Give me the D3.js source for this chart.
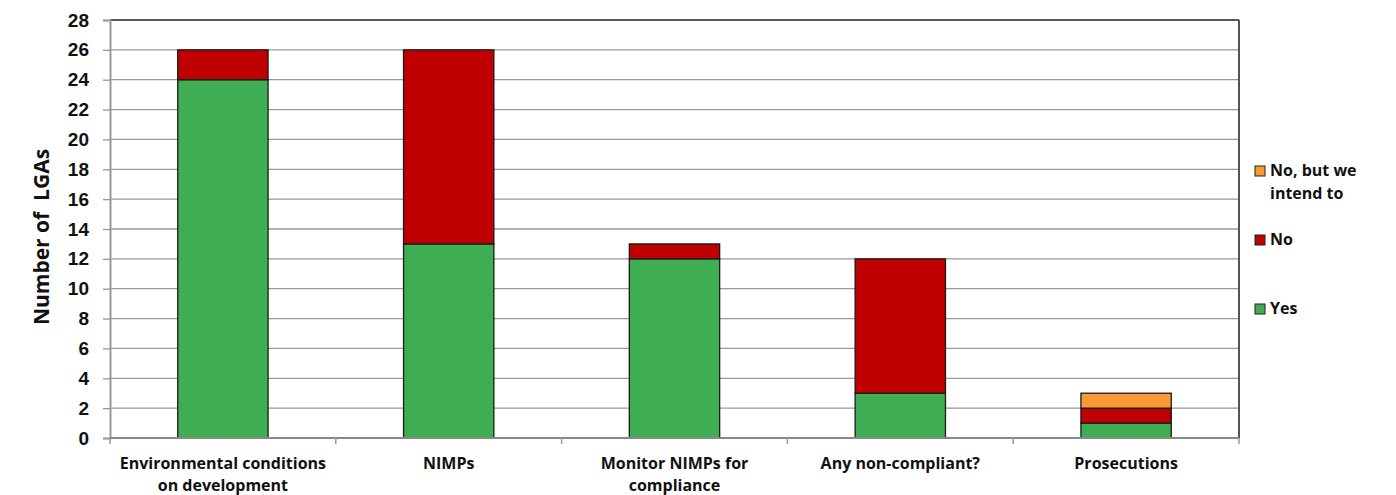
<!DOCTYPE html>
<html>
<head>
<meta charset="utf-8">
<script src="https://cdn.jsdelivr.net/npm/d3@7"></script>
<style>
  html, body { margin: 0; padding: 0; background: #fff; }
  svg { display: block; font-family: "Open Sans", Lato, "Liberation Sans", sans-serif; }
</style>
</head>
<body>
<svg id="chart" width="1396" height="495"></svg>
<script>
// Survey responses per activity (number of LGAs)
const categories = [
  ["Environmental conditions", "on development"],
  ["NIMPs"],
  ["Monitor NIMPs for", "compliance"],
  ["Any non-compliant?"],
  ["Prosecutions"]
];
const seriesNames = ["Yes", "No", "No, but we intend to"];
const yesValues = [24, 13, 12, 3, 1];
const noValues = [2, 13, 1, 9, 1];
const intendValues = [0, 0, 0, 0, 1];
const yTicks = [0, 2, 4, 6, 8, 10, 12, 14, 16, 18, 20, 22, 24, 26, 28];
const colors = ["#3fae52", "#c00000", "#f89a38"];

const svg = d3.select("#chart");
const margin = { left: 110, right: 157, top: 20, bottom: 57 };
const width = 1396 - margin.left - margin.right;
const height = 495 - margin.top - margin.bottom;

const g = svg.append("g").attr("transform", `translate(${margin.left},${margin.top})`);

const rows = categories.map((c, i) => ({
  key: i,
  "Yes": yesValues[i],
  "No": noValues[i],
  "No, but we intend to": intendValues[i]
}));
const stacked = d3.stack().keys(seriesNames)(rows);

const x = d3.scaleBand().domain(d3.range(categories.length)).range([0, width]).paddingInner(0.6).paddingOuter(0.3);
const xEdges = d3.scaleLinear().domain([0, categories.length]).range([0, width]);
const y = d3.scaleLinear().domain([0, 28]).range([height, 0]);

// horizontal gridlines
g.append("g").selectAll("line").data(yTicks.filter(t => t > 0 && t < 28)).join("line")
  .attr("x1", 0).attr("x2", width)
  .attr("y1", d => y(d)).attr("y2", d => y(d))
  .attr("stroke", "#999").attr("stroke-width", 1.3);

// top and right frame
g.append("line").attr("x1", 0).attr("x2", width).attr("y1", 0).attr("y2", 0)
  .attr("stroke", "#222").attr("stroke-width", 1.5);
g.append("line").attr("x1", width).attr("x2", width).attr("y1", 0).attr("y2", height)
  .attr("stroke", "#555").attr("stroke-width", 2);

// stacked bars
g.append("g").selectAll("g").data(stacked).join("g")
  .attr("fill", (d, i) => colors[i])
  .selectAll("rect").data(d => d.filter(s => s[1] > s[0])).join("rect")
  .attr("x", d => x(d.data.key))
  .attr("width", x.bandwidth())
  .attr("y", d => y(d[1]))
  .attr("height", d => y(d[0]) - y(d[1]))
  .attr("stroke", "#1a1a1a").attr("stroke-width", 1.3);

// y axis
const yAxis = g.append("g")
  .call(d3.axisLeft(y).tickValues(yTicks).tickSize(7).tickPadding(14));
yAxis.select(".domain").attr("stroke", "#999").attr("stroke-width", 2);
yAxis.selectAll(".tick line").attr("stroke", "#999").attr("stroke-width", 1.3);
yAxis.selectAll(".tick text")
  .attr("font-size", 19).attr("font-weight", "bold").attr("fill", "#111");

// x axis baseline with category boundary ticks
const xAxisG = g.append("g").attr("transform", `translate(0,${height})`);
xAxisG.append("line").attr("x1", 0).attr("x2", width)
  .attr("stroke", "#888").attr("stroke-width", 2);
xAxisG.selectAll("line.edge").data(d3.range(categories.length + 1)).join("line")
  .attr("class", "edge")
  .attr("x1", d => xEdges(d)).attr("x2", d => xEdges(d))
  .attr("y1", 0).attr("y2", 6)
  .attr("stroke", "#999").attr("stroke-width", 1.5);

// category labels
xAxisG.selectAll("text.cat").data(categories).join("text")
  .attr("class", "cat")
  .attr("text-anchor", "middle")
  .attr("font-size", 16).attr("font-weight", "bold").attr("fill", "#111")
  .attr("transform", (d, i) => `translate(${x(i) + x.bandwidth() / 2},31)`)
  .selectAll("tspan").data(d => d).join("tspan")
  .attr("x", 0).attr("dy", (d, i) => i === 0 ? 0 : 22)
  .text(d => d);

// y-axis title
svg.append("text")
  .attr("transform", `translate(49,${margin.top + height / 2 + 8}) rotate(-90)`)
  .attr("text-anchor", "middle")
  .attr("font-size", 21).attr("font-weight", "bold").attr("fill", "#111")
  .attr("xml:space", "preserve")
  .text("Number of  LGAs");

// legend (top entry is the top of the stack)
const legendItems = [
  { name: ["No, but we", "intend to"], color: colors[2], y: 172 },
  { name: ["No"], color: colors[1], y: 241 },
  { name: ["Yes"], color: colors[0], y: 310 }
];
const legend = svg.append("g");
const li = legend.selectAll("g").data(legendItems).join("g")
  .attr("transform", d => `translate(1255,${d.y})`);
li.append("rect").attr("x", 0).attr("y", -6).attr("width", 10).attr("height", 10)
  .attr("fill", d => d.color).attr("stroke", "#222").attr("stroke-width", 1);
li.append("text")
  .attr("font-size", 16).attr("font-weight", "bold").attr("fill", "#111")
  .attr("dominant-baseline", "middle")
  .selectAll("tspan").data(d => d.name).join("tspan")
  .attr("x", 15).attr("y", (d, i) => i * 23)
  .text(d => d);
</script>
</body>
</html>
